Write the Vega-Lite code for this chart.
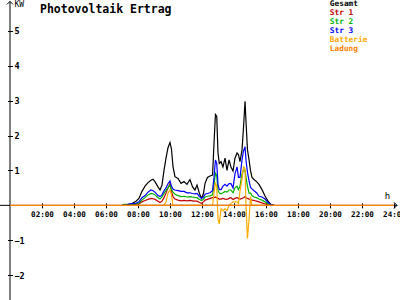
{
  "$schema": "https://vega.github.io/schema/vega-lite/v6.json",
  "width": 400,
  "height": 300,
  "padding": 0,
  "autosize": "none",
  "background": "white",
  "title": {
    "text": "Photovoltaik Ertrag",
    "anchor": "start",
    "frame": "group",
    "orient": "top",
    "dx": 40,
    "offset": -16,
    "baseline": "top",
    "font": "DejaVu Sans Mono",
    "fontSize": 11.5,
    "fontWeight": "bold",
    "color": "black"
  },
  "config": {
    "view": {"stroke": null},
    "axis": {"grid": false, "labelFont": "DejaVu Sans Mono", "titleFont": "DejaVu Sans Mono", "labelColor": "black", "titleColor": "black", "tickColor": "black", "domain": false, "labelBound": false, "labelFlush": false, "tickSize": 5}
  },
  "datasets": {
    "pv": [
      {"t": 7.0, "Gesamt": 0, "Str 1": 0, "Str 2": 0, "Str 3": 0, "Batterie": 0},
      {"t": 7.125, "Gesamt": 0, "Str 1": 0, "Str 2": 0.03, "Str 3": 0, "Batterie": 0},
      {"t": 7.25, "Gesamt": 0, "Str 1": 0, "Str 2": 0.03, "Str 3": 0, "Batterie": 0},
      {"t": 7.375, "Gesamt": 0.02, "Str 1": 0.01, "Str 2": 0.03, "Str 3": 0.03, "Batterie": 0},
      {"t": 7.625, "Gesamt": 0.05, "Str 1": 0.02, "Str 2": 0.03, "Str 3": 0.05, "Batterie": 0},
      {"t": 7.875, "Gesamt": 0.12, "Str 1": 0.03, "Str 2": 0.04, "Str 3": 0.06, "Batterie": 0},
      {"t": 8.06, "Gesamt": 0.2, "Str 1": 0.05, "Str 2": 0.07, "Str 3": 0.1, "Batterie": 0},
      {"t": 8.25, "Gesamt": 0.4, "Str 1": 0.1, "Str 2": 0.15, "Str 3": 0.22, "Batterie": 0},
      {"t": 8.44, "Gesamt": 0.55, "Str 1": 0.14, "Str 2": 0.22, "Str 3": 0.28, "Batterie": 0},
      {"t": 8.625, "Gesamt": 0.65, "Str 1": 0.17, "Str 2": 0.3, "Str 3": 0.38, "Batterie": 0},
      {"t": 8.81, "Gesamt": 0.72, "Str 1": 0.2, "Str 2": 0.34, "Str 3": 0.44, "Batterie": 0},
      {"t": 8.94, "Gesamt": 0.75, "Str 1": 0.19, "Str 2": 0.33, "Str 3": 0.42, "Batterie": 0},
      {"t": 9.06, "Gesamt": 0.68, "Str 1": 0.17, "Str 2": 0.3, "Str 3": 0.38, "Batterie": 0},
      {"t": 9.25, "Gesamt": 0.53, "Str 1": 0.12, "Str 2": 0.22, "Str 3": 0.28, "Batterie": 0},
      {"t": 9.375, "Gesamt": 0.44, "Str 1": 0.08, "Str 2": 0.18, "Str 3": 0.25, "Batterie": 0},
      {"t": 9.5, "Gesamt": 0.58, "Str 1": 0.12, "Str 2": 0.24, "Str 3": 0.3, "Batterie": 0},
      {"t": 9.625, "Gesamt": 1.0, "Str 1": 0.22, "Str 2": 0.34, "Str 3": 0.42, "Batterie": 0},
      {"t": 9.75, "Gesamt": 1.35, "Str 1": 0.35, "Str 2": 0.42, "Str 3": 0.5, "Batterie": 0.1},
      {"t": 9.875, "Gesamt": 1.65, "Str 1": 0.5, "Str 2": 0.5, "Str 3": 0.62, "Batterie": 0.35},
      {"t": 10.0, "Gesamt": 1.8, "Str 1": 0.62, "Str 2": 0.58, "Str 3": 0.7, "Batterie": 0.45},
      {"t": 10.09, "Gesamt": 1.62, "Str 1": 0.4, "Str 2": 0.45, "Str 3": 0.55, "Batterie": 0.3},
      {"t": 10.19, "Gesamt": 1.1, "Str 1": 0.25, "Str 2": 0.38, "Str 3": 0.46, "Batterie": 0},
      {"t": 10.31, "Gesamt": 0.82, "Str 1": 0.18, "Str 2": 0.32, "Str 3": 0.44, "Batterie": 0},
      {"t": 10.5, "Gesamt": 0.77, "Str 1": 0.15, "Str 2": 0.28, "Str 3": 0.42, "Batterie": 0},
      {"t": 10.69, "Gesamt": 0.63, "Str 1": 0.13, "Str 2": 0.25, "Str 3": 0.4, "Batterie": 0},
      {"t": 10.875, "Gesamt": 0.68, "Str 1": 0.14, "Str 2": 0.26, "Str 3": 0.4, "Batterie": 0},
      {"t": 11.06, "Gesamt": 0.6, "Str 1": 0.13, "Str 2": 0.24, "Str 3": 0.36, "Batterie": 0},
      {"t": 11.25, "Gesamt": 0.74, "Str 1": 0.14, "Str 2": 0.25, "Str 3": 0.36, "Batterie": 0},
      {"t": 11.41, "Gesamt": 0.53, "Str 1": 0.13, "Str 2": 0.24, "Str 3": 0.34, "Batterie": 0},
      {"t": 11.56, "Gesamt": 0.44, "Str 1": 0.12, "Str 2": 0.22, "Str 3": 0.33, "Batterie": 0},
      {"t": 11.69, "Gesamt": 0.58, "Str 1": 0.12, "Str 2": 0.22, "Str 3": 0.34, "Batterie": 0},
      {"t": 11.84, "Gesamt": 0.34, "Str 1": 0.08, "Str 2": 0.17, "Str 3": 0.25, "Batterie": 0},
      {"t": 11.97, "Gesamt": 0.2, "Str 1": 0.06, "Str 2": 0.14, "Str 3": 0.2, "Batterie": 0},
      {"t": 12.09, "Gesamt": 0.34, "Str 1": 0.1, "Str 2": 0.17, "Str 3": 0.24, "Batterie": 0},
      {"t": 12.19, "Gesamt": 0.63, "Str 1": 0.15, "Str 2": 0.24, "Str 3": 0.32, "Batterie": 0},
      {"t": 12.34, "Gesamt": 0.8, "Str 1": 0.17, "Str 2": 0.26, "Str 3": 0.34, "Batterie": 0},
      {"t": 12.5, "Gesamt": 0.84, "Str 1": 0.2, "Str 2": 0.27, "Str 3": 0.36, "Batterie": 0},
      {"t": 12.66, "Gesamt": 0.87, "Str 1": 0.22, "Str 2": 0.3, "Str 3": 0.42, "Batterie": 0},
      {"t": 12.75, "Gesamt": 1.77, "Str 1": 0.22, "Str 2": 0.6, "Str 3": 0.8, "Batterie": 0.35},
      {"t": 12.84, "Gesamt": 2.6, "Str 1": 0.24, "Str 2": 0.92, "Str 3": 1.3, "Batterie": 0.63},
      {"t": 12.92, "Gesamt": 2.55, "Str 1": 0.22, "Str 2": 0.85, "Str 3": 1.2, "Batterie": 0.55},
      {"t": 13.0, "Gesamt": 1.5, "Str 1": 0.2, "Str 2": 0.42, "Str 3": 0.6, "Batterie": -0.4},
      {"t": 13.08, "Gesamt": 1.2, "Str 1": 0.18, "Str 2": 0.35, "Str 3": 0.45, "Batterie": -0.53},
      {"t": 13.19, "Gesamt": 1.25, "Str 1": 0.18, "Str 2": 0.33, "Str 3": 0.45, "Batterie": -0.1},
      {"t": 13.31, "Gesamt": 1.1, "Str 1": 0.2, "Str 2": 0.36, "Str 3": 0.55, "Batterie": -0.15},
      {"t": 13.44, "Gesamt": 1.35, "Str 1": 0.18, "Str 2": 0.4, "Str 3": 0.6, "Batterie": -0.1},
      {"t": 13.56, "Gesamt": 1.0, "Str 1": 0.17, "Str 2": 0.38, "Str 3": 0.55, "Batterie": -0.15},
      {"t": 13.69, "Gesamt": 1.3, "Str 1": 0.2, "Str 2": 0.44, "Str 3": 0.62, "Batterie": 0},
      {"t": 13.81, "Gesamt": 1.1, "Str 1": 0.22, "Str 2": 0.44, "Str 3": 0.62, "Batterie": 0.05},
      {"t": 13.94, "Gesamt": 0.98, "Str 1": 0.17, "Str 2": 0.36, "Str 3": 0.5, "Batterie": 0.1},
      {"t": 14.06, "Gesamt": 1.35, "Str 1": 0.2, "Str 2": 0.5, "Str 3": 0.9, "Batterie": 0.1},
      {"t": 14.19, "Gesamt": 1.5, "Str 1": 0.22, "Str 2": 0.55, "Str 3": 1.1, "Batterie": 0.1},
      {"t": 14.28, "Gesamt": 1.45, "Str 1": 0.2, "Str 2": 0.45, "Str 3": 0.8, "Batterie": 0.05},
      {"t": 14.375, "Gesamt": 1.25, "Str 1": 0.18, "Str 2": 0.55, "Str 3": 0.8, "Batterie": 0.4},
      {"t": 14.5, "Gesamt": 1.58, "Str 1": 0.2, "Str 2": 0.9, "Str 3": 1.3, "Batterie": 0.75},
      {"t": 14.59, "Gesamt": 2.2, "Str 1": 0.22, "Str 2": 1.0, "Str 3": 1.55, "Batterie": 1.1},
      {"t": 14.69, "Gesamt": 2.98, "Str 1": 0.25, "Str 2": 1.0, "Str 3": 1.68, "Batterie": 1.05},
      {"t": 14.75, "Gesamt": 2.4, "Str 1": 0.22, "Str 2": 0.8, "Str 3": 1.3, "Batterie": 0},
      {"t": 14.84, "Gesamt": 1.6, "Str 1": 0.2, "Str 2": 0.55, "Str 3": 0.95, "Batterie": -0.95},
      {"t": 14.94, "Gesamt": 1.3, "Str 1": 0.18, "Str 2": 0.35, "Str 3": 0.7, "Batterie": -0.4},
      {"t": 15.03, "Gesamt": 1.0, "Str 1": 0.17, "Str 2": 0.35, "Str 3": 0.52, "Batterie": 0.25},
      {"t": 15.125, "Gesamt": 0.8, "Str 1": 0.15, "Str 2": 0.28, "Str 3": 0.47, "Batterie": 0},
      {"t": 15.25, "Gesamt": 0.74, "Str 1": 0.14, "Str 2": 0.24, "Str 3": 0.42, "Batterie": 0},
      {"t": 15.41, "Gesamt": 0.68, "Str 1": 0.12, "Str 2": 0.22, "Str 3": 0.36, "Batterie": 0},
      {"t": 15.56, "Gesamt": 0.6, "Str 1": 0.1, "Str 2": 0.18, "Str 3": 0.26, "Batterie": 0},
      {"t": 15.75, "Gesamt": 0.45, "Str 1": 0.07, "Str 2": 0.15, "Str 3": 0.24, "Batterie": 0},
      {"t": 15.94, "Gesamt": 0.27, "Str 1": 0.04, "Str 2": 0.1, "Str 3": 0.18, "Batterie": 0},
      {"t": 16.125, "Gesamt": 0.12, "Str 1": 0.02, "Str 2": 0.05, "Str 3": 0.08, "Batterie": 0},
      {"t": 16.31, "Gesamt": 0.03, "Str 1": 0.01, "Str 2": 0.02, "Str 3": 0.02, "Batterie": 0},
      {"t": 16.5, "Gesamt": 0, "Str 1": 0, "Str 2": 0, "Str 3": 0, "Batterie": 0}
    ],
    "ladung": [
      {"t": 0, "value": 0, "series": "Ladung"},
      {"t": 24, "value": 0, "series": "Ladung"}
    ],
    "axes": [
      {"x0": 0, "y0": 5.84, "x1": 0, "y1": -2.71},
      {"x0": -0.625, "y0": 0, "x1": 24.19, "y1": 0}
    ],
    "arrows": [
      {"ax": 0, "ay": 5.84, "dir": "up"},
      {"ax": 24.19, "ay": 0, "dir": "right"}
    ]
  },
  "layer": [
    {
      "data": {"name": "pv"},
      "transform": [
        {"fold": ["Gesamt", "Str 1", "Str 2", "Str 3", "Batterie"], "as": ["series", "value"]}
      ],
      "mark": {"type": "line", "strokeWidth": 1.2, "interpolate": "linear"},
      "encoding": {
        "x": {"field": "t", "type": "quantitative",
          "scale": {"domain": [-0.625, 24.375], "nice": false, "zero": false},
          "axis": {"orient": "bottom", "offset": -97.15, "tickCount": 40,
            "values": [2, 4, 6, 8, 10, 12, 14, 16, 18, 20, 22, 24],
            "labelOverlap": false,
            "labelExpr": "(datum.value < 10 ? '0' : '') + datum.value + ':00'",
            "labelFontSize": 7.6, "labelFontWeight": "bold", "labelPadding": 3,
            "title": "h", "titleX": 387, "titleY": -4, "titleAlign": "center", "titleBaseline": "alphabetic",
            "titleFontSize": 9, "titleFontWeight": "normal"}},
        "y": {"field": "value", "type": "quantitative",
          "scale": {"domain": [-2.71, 5.88], "nice": false, "zero": false},
          "axis": {"orient": "left", "offset": -12.5, "tickCount": 40,
            "values": [-2, -1, 1, 2, 3, 4, 5],
            "format": "d",
            "labelOverlap": false,
            "labelAlign": "left", "labelPadding": -6.5, "labelFontSize": 8.5, "labelFontWeight": "bold",
            "title": "KW", "titleAngle": 0, "titleX": 1.5, "titleY": 0.5, "titleAlign": "left", "titleBaseline": "top",
            "titleFontSize": 8, "titleFontWeight": "normal"}},
        "color": {"field": "series", "type": "nominal",
          "scale": {"domain": ["Gesamt", "Str 1", "Str 2", "Str 3", "Batterie", "Ladung"],
                    "range": ["#000000", "#c00000", "#00b000", "#0000ff", "#ffaa00", "#ff8000"]},
          "legend": {"orient": "none", "legendX": 322, "legendY": 0, "title": null,
            "symbolSize": 0, "symbolOpacity": 0, "symbolStrokeWidth": 0, "labelOffset": 0,
            "labelFont": "DejaVu Sans Mono", "labelFontSize": 7.8, "labelFontWeight": "bold",
            "rowPadding": 0, "padding": 0,
            "encode": {"labels": {"update": {"fill": {"scale": "color", "field": "value"}}}}}}
      }
    },
    {
      "data": {"name": "axes"},
      "mark": {"type": "rule", "color": "black", "strokeWidth": 1},
      "encoding": {
        "x": {"field": "x0", "type": "quantitative"},
        "y": {"field": "y0", "type": "quantitative"},
        "x2": {"field": "x1"},
        "y2": {"field": "y1"}
      }
    },
    {
      "data": {"name": "ladung"},
      "mark": {"type": "line", "strokeWidth": 1.2},
      "encoding": {
        "x": {"field": "t", "type": "quantitative"},
        "y": {"field": "value", "type": "quantitative"},
        "color": {"field": "series", "type": "nominal"}
      }
    },
    {
      "data": {"name": "arrows"},
      "mark": {"type": "point", "filled": false, "color": "black", "strokeWidth": 1, "size": 36, "opacity": 1},
      "encoding": {
        "x": {"field": "ax", "type": "quantitative"},
        "y": {"field": "ay", "type": "quantitative"},
        "shape": {"field": "dir", "type": "nominal", "legend": null,
          "scale": {"domain": ["up", "right"], "range": ["M-1,1L0,0L1,1", "M-1,-1L0,0L-1,1"]}}
      }
    }
  ]
}
